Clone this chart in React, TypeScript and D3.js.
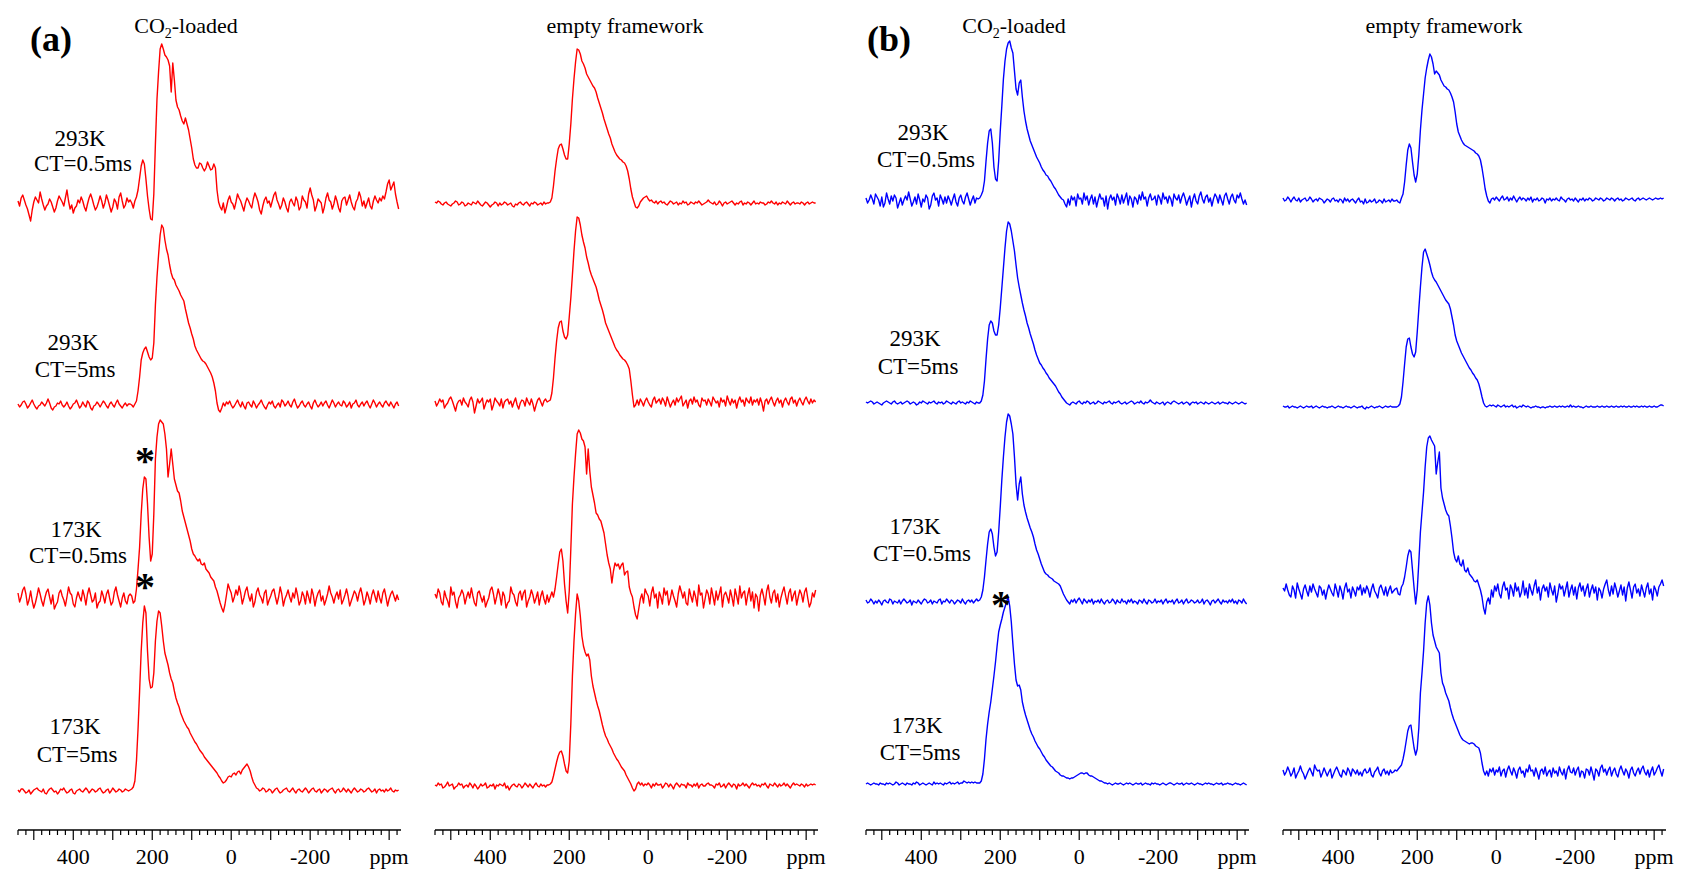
import React from "react";
import * as d3 from "d3";

// Every trace is sampled on one chemical-shift grid: 540 ppm down to -424 ppm, 4 ppm apart (242 points).
const PPM_FIRST = 540;
const PPM_STEP = 4;
const N_POINTS = 242;
const ppmGrid = d3.range(N_POINTS).map((i) => PPM_FIRST - i * PPM_STEP);

const axisTickLabels = [400, 200, 0, -200];
const axisUnitAt = -400;
const temperatures = ["293K", "293K", "173K", "173K"];
const contactTimes = ["CT=0.5ms", "CT=5ms", "CT=0.5ms", "CT=5ms"];
const panelLetters = ["(a)", "(b)"];

// Intensities (a.u., baseline = 0), 11 values per line.

// ---- (a) CO2-loaded ----
const a_co2_293K_05 = [
  3, -2, 6, 9, 4, -1, -5, -11, -17, -6, 2,
  7, 4, 1, 12, 5, -1, -6, -2, 0, 5, 2,
  -3, -8, -4, 3, 8, 5, 2, -2, 6, 14, 3,
  -5, -1, -9, -4, -2, 4, 1, 7, 3, -3, -7,
  0, 6, 10, 5, -1, -6, -3, 2, 8, 3, -4,
  1, 9, 4, -2, -8, -3, 5, 2, -5, 7, 11,
  3, -4, -1, 6, 2, 4, 1, -4, 3, 7, 14,
  26, 38, 44, 40, 25, 8, -5, -15, -16, 10, 60,
  105, 132, 155, 160, 155, 149, 147, 144, 138, 112, 141,
  124, 104, 97, 94, 88, 83, 80, 86, 80, 74, 65,
  56, 45, 39, 36, 36, 41, 40, 36, 33, 36, 42,
  38, 34, 35, 40, 36, 14, 2, -3, -6, 1, -9,
  -3, 4, 8, 2, 0, -5, 2, 10, 6, 3, -2,
  -7, 1, 6, 3, -1, -4, 5, 11, 7, 2, -6,
  -10, -2, 4, 7, 1, 3, -3, 3, 9, 12, 4,
  0, -5, -1, 6, 2, -4, -8, 2, 5, 1, -2,
  7, 3, -6, -3, 8, 4, 2, -4, 10, 16, 9,
  4, -7, -2, 5, 3, 1, -9, -3, 6, 11, 4,
  2, -5, 0, 8, 3, -4, -8, 3, 6, 7, -1,
  4, 9, 2, -3, -6, 2, 5, 12, 7, -2, 3,
  -4, 1, 6, -2, -5, 3, 8, 4, 1, 6, 3,
  8, 5, 12, 20, 24, 14, 18, 22, 10, 2, -5,
];
const a_co2_293K_5 = [
  1, -2, 0, 3, 4, 1, -3, -1, 2, 5, 1,
  -2, -4, -1, 0, 3, 1, -1, 2, 6, 2, -3,
  -5, -2, -1, 2, 1, 4, 0, -2, 0, 3, -1,
  -4, -2, 1, 2, 5, 1, -3, -1, 3, 0, -2,
  4, 2, -3, -5, -1, 0, 3, 1, -2, 1, 4,
  2, -1, -3, 1, 3, 0, -2, 2, 5, 1, -1,
  -3, 0, 2, -1, 1, 1, 0, -2, 1, 4, 14,
  28, 45, 52, 56, 58, 53, 48, 45, 47, 62, 100,
  128, 150, 170, 180, 177, 165, 156, 150, 140, 132, 127,
  125, 120, 117, 114, 110, 107, 104, 96, 89, 82, 77,
  71, 66, 59, 55, 52, 49, 46, 44, 43, 41, 38,
  35, 32, 28, 22, 14, 2, -5, -7, -3, 2, -1,
  3, 1, 4, 0, -3, -1, 2, 5, 1, -2, 3,
  -1, -4, 2, 3, 0, -2, 4, 1, -3, 0, 2,
  5, 1, -2, -4, 0, 3, 1, 4, -1, -3, 0,
  2, -2, 5, 3, -1, 1, 4, 0, -2, 3, 6,
  1, -3, -1, 2, 4, 0, -2, 1, 3, -1, -4,
  2, 5, 1, -2, 0, 3, -1, 2, 4, 0, -3,
  1, 5, 2, -2, 1, 3, 0, -1, 4, 2, -2,
  0, 3, -3, 1, 2, 5, 0, -2, 1, 3, -1,
  2, 4, 0, -3, 1, 5, 2, -2, 1, 3, 0,
  -2, 2, 4, 1, -1, 3, 0, -3, 1, 3, -1,
];
const a_co2_173K_05 = [
  6, -3, 2, 9, 12, 5, -6, -1, 8, -2, -9,
  -4, 3, 11, 5, -2, -7, 1, 7, 10, 2, -5,
  4, -10, -6, -3, 6, 9, 3, -1, -7, 2, 12,
  6, 4, -5, -8, 1, 7, 2, -2, 9, 3, -6,
  5, 11, 4, -3, -1, 6, -9, -4, -2, 8, 3,
  -4, 5, 9, 1, -6, -3, 7, 12, 4, -2, -8,
  1, 6, -2, -5, 3, 5, 3, -4, -2, 10, 30,
  52, 85, 110, 122, 120, 95, 62, 38, 45, 85, 140,
  162, 175, 179, 177, 175, 165, 150, 122, 135, 150, 135,
  120, 114, 108, 106, 98, 88, 82, 76, 70, 64, 58,
  50, 45, 43, 40, 38, 40, 35, 34, 36, 30, 28,
  26, 22, 20, 18, 12, 8, 2, -4, -9, -13, -6,
  4, 15, 10, 6, -3, 2, 9, 4, 13, 6, -5,
  1, 8, 12, 3, -2, 5, -8, -3, 7, 11, 4,
  1, -4, 6, 9, -6, -1, 3, 8, 10, 2, -5,
  2, 12, 5, -7, 0, 4, 9, 2, -3, 6, 1,
  11, 4, -6, -2, 7, 3, -5, 8, 2, -4, 10,
  4, -7, 1, 6, 9, -2, 3, -6, -1, 5, 13,
  6, 2, -4, 3, 7, 0, 9, -5, -1, 4, 10,
  3, -7, -2, 3, 8, 5, -2, 6, 11, 4, -6,
  -1, 7, 2, -5, 4, 9, 3, -3, 8, 1, -4,
  6, 10, 2, -7, 0, 5, 8, 3, -2, 4, -1,
];
const a_co2_173K_5 = [
  1, -1, 2, 2, 0, -2, -1, 1, -3, -1, 1,
  2, 3, 1, 0, -1, 2, -2, -3, 0, 2, 3,
  1, -1, 0, -3, -1, 2, 1, 3, 0, -2, -1,
  1, 2, -2, -3, 0, 1, 2, 0, -1, 1, 3,
  1, -2, 0, 2, 1, -1, 0, 2, 3, 0, -2,
  -1, 1, 2, -2, 0, 3, 1, -1, 0, 2, 1,
  -1, 0, 2, 1, 0, 1, 2, 4, 10, 30, 62,
  100, 140, 168, 185, 178, 140, 112, 103, 104, 118, 150,
  170, 180, 178, 165, 150, 138, 132, 126, 118, 112, 108,
  100, 93, 88, 84, 78, 74, 70, 67, 64, 62, 58,
  55, 52, 49, 47, 44, 41, 39, 37, 34, 32, 30,
  28, 26, 24, 22, 20, 18, 15, 13, 10, 8, 9,
  11, 14, 15, 14, 17, 18, 16, 19, 20, 17, 21,
  23, 25, 27, 24, 20, 14, 9, 6, 3, 2, 0,
  1, 3, 2, -1, 0, 2, 1, -2, 0, 2, 3,
  0, -2, -1, 1, 2, 3, 0, -1, 1, 3, 0,
  -2, 1, 2, 0, -1, 1, 3, 1, -2, 0, 2,
  3, 0, -1, 1, 2, -2, 0, 2, 1, -1, 1,
  2, 3, 0, -2, 1, 2, -1, 0, 3, 1, -1,
  2, 0, -2, 1, 3, 1, -1, 0, 2, 1, -1,
  0, 2, 3, 1, -1, 0, 2, -2, 1, 2, 0,
  1, -1, 2, 0, 1, 3, 0, -1, 1, 0, 1,
];

// ---- (a) empty framework ----
const a_empty_293K_05 = [
  2, 1, 3, 2, 0, -1, 1, 2, 0, -1, -2,
  0, 1, 3, 2, -1, 0, 2, 1, -2, -1, 1,
  0, -1, 2, 1, 0, 3, 1, -1, -2, 0, 2,
  1, -1, -3, -1, 0, 2, 1, -2, 1, -1, 0,
  2, 1, -1, 0, 1, -2, -3, 0, -1, 1, 2,
  0, -1, 1, 2, 0, -2, 1, 0, 2, 1, -1,
  0, 1, -1, 2, 0, 1, 1, 2, 6, 18, 33,
  45, 55, 59, 60, 55, 49, 45, 45, 60, 80, 105,
  125, 142, 155, 154, 150, 143, 140, 136, 130, 127, 124,
  121, 118, 116, 112, 106, 101, 96, 91, 85, 80, 75,
  70, 66, 60, 56, 52, 49, 47, 45, 44, 42, 41,
  38, 33, 25, 15, 7, 2, -3, -4, -2, 2, 4,
  6, 7, 8, 5, 3, 4, 2, 1, 3, 0, 2,
  3, 1, 2, 0, -1, 1, 3, 2, 0, 1, 2,
  -1, 1, 0, 3, 1, 2, -1, 0, 2, 1, 0,
  2, 1, 3, 1, -1, 0, 1, 2, 4, 2, 1,
  0, 2, -1, 0, 3, 1, -2, 1, 2, 0, 1,
  2, 3, 1, -1, 1, 0, 2, 3, -1, 1, 0,
  2, 1, -1, 1, 3, 0, 1, 0, 2, 1, 1,
  -1, 0, 2, 1, 3, 1, 0, 2, -1, 1, 0,
  2, 1, 0, 3, 1, -1, 1, 2, 0, 1, 1,
  0, 2, 1, -1, 1, 2, 0, 1, 2, 1, 1,
];
const a_empty_293K_5 = [
  2, -3, 0, 4, 1, 3, -5, -2, 0, 4, 6,
  2, -3, -8, -1, 2, 3, -2, 5, 1, -1, -4,
  3, 6, 1, -10, -3, 4, 0, 2, 5, -6, -1,
  3, 1, 4, -7, -2, 5, 2, 0, -3, 4, -5,
  1, 3, 4, -1, 2, -4, 1, 5, -2, -6, 0,
  3, 2, -3, 5, 1, -2, 4, -1, -8, -2, 3,
  5, 1, -3, 2, 4, 1, 2, 3, 10, 25, 45,
  62, 75, 81, 82, 72, 66, 64, 68, 86, 105, 128,
  152, 172, 186, 185, 178, 168, 161, 155, 146, 140, 133,
  128, 124, 120, 116, 110, 103, 98, 93, 87, 80, 76,
  72, 68, 64, 60, 56, 53, 51, 48, 46, 44, 43,
  41, 38, 34, 22, 8, -4, -2, 3, -2, 4, 1,
  -3, 2, 5, 1, -2, -4, 3, 6, 0, 2, 4,
  -1, 5, 2, -3, 6, 1, -4, 0, 3, -2, 5,
  1, 4, 7, -3, 0, 3, -5, 2, 4, -1, 6,
  1, 3, -2, -4, 5, 2, 3, -2, 4, 1, -3,
  6, 3, 0, 2, -4, 5, 1, 3, -3, 7, 2,
  -2, 4, 0, 3, -5, 2, 6, 1, 3, -3, 5,
  2, 0, 6, -2, 3, 1, 4, -2, 5, 0, -8,
  2, 4, -1, 3, 6, 1, -3, 2, 5, 0, 3,
  -4, 2, 5, 1, -2, 4, 6, 0, 3, -3, 2,
  5, 1, -2, 3, 6, 2, -1, 4, 0, 3, 1,
];
const a_empty_173K_05 = [
  5, 1, 10, 6, -3, -6, 8, 2, -2, -8, 12,
  4, 7, -3, -9, 1, 4, 9, 5, -5, 2, 7,
  1, 11, 3, -4, -7, 6, 8, 2, -3, 3, -8,
  -3, 1, 9, 12, 5, -5, 2, 10, 4, -6, 7,
  3, -9, -4, -2, 12, 6, 4, -3, -7, 5, 8,
  -1, 6, 9, -8, -2, 2, 9, 4, -4, 1, 7,
  -6, 3, 8, 0, -5, 4, -3, 2, 7, 2, 10,
  22, 35, 47, 50, 38, 15, -2, -14, 8, 50, 95,
  122, 145, 165, 169, 166, 160, 158, 152, 125, 150, 128,
  112, 104, 96, 86, 84, 80, 78, 72, 66, 55, 44,
  36, 30, 16, 28, 36, 33, 35, 30, 34, 36, 24,
  27, 28, 12, 6, 2, -8, -16, -20, -10, 0, 5,
  -4, 10, 6, 3, -7, 6, 12, 1, 5, -9, 7,
  2, -5, 11, 4, 8, -6, 0, 9, 3, -2, -8,
  5, 13, 7, 1, 7, -4, -6, 10, 3, -3, 8,
  2, -7, 14, 4, 6, -9, 0, 9, 5, -5, 11,
  3, -6, 8, -1, 5, 12, -8, 4, 7, 2, -4,
  9, 2, -7, 10, 3, -5, 13, 1, 6, 8, -6,
  4, 11, -2, 7, -9, 5, 2, -12, 4, 10, 3,
  -6, 8, 14, 2, -4, 6, 9, -3, 5, -8, 1,
  7, 12, 3, -5, 6, 10, -2, 4, 8, -6, 2,
  9, 5, -3, 7, 11, 1, -8, -4, 6, 2, 9,
];
const a_empty_173K_5 = [
  1, 0, 3, 1, 2, -2, -1, 1, 4, 0, 1,
  2, -3, -1, 0, 3, 1, 2, -2, 0, 1, -1,
  3, 1, -2, 2, 0, -3, -1, 2, 0, 1, 3,
  -2, -1, 1, 0, 2, -3, 1, 0, 2, 1, 0,
  3, -2, 0, -4, -1, 1, 2, 0, -1, 2, 1,
  -2, 0, 3, 1, -1, 2, 0, -2, 1, 3, 0,
  -1, 2, 0, 1, -1, 1, 1, 2, 4, 10, 17,
  24, 30, 34, 35, 30, 22, 15, 13, 25, 62, 110,
  145, 172, 192, 185, 170, 150, 140, 134, 130, 132, 126,
  110, 100, 93, 86, 80, 75, 68, 61, 55, 50, 47,
  43, 40, 37, 33, 30, 27, 25, 22, 19, 17, 15,
  11, 8, 5, 2, -2, -5, -3, 2, 4, 1, 3,
  0, 2, 1, 3, 1, -2, 2, 0, 3, 1, 1,
  2, -2, 0, 3, 2, -1, 2, 0, -3, 1, 3,
  1, -1, 2, 1, 1, -2, 3, 1, 1, -1, 2,
  0, 3, -2, 1, 2, 0, 0, 2, 3, 1, 1,
  0, -2, 2, 1, 3, -1, 0, 2, -2, 1, 3,
  1, -1, 2, 1, -3, 2, 0, 1, 3, 0, 2,
  0, -2, 1, 3, 1, 2, 0, 1, -1, 2, 1,
  3, 0, -2, 2, 1, 0, 3, 1, -1, 2, 0,
  1, 3, 0, 2, 0, -2, 1, 3, 1, 2, 1,
  0, 2, 1, -1, 2, 0, 1, 2, 1, 2, 1,
];

// ---- (b) CO2-loaded ----
const b_co2_293K_05 = [
  3, -2, 1, 6, 2, -3, 7, 4, 1, -5, 4,
  -6, -2, 8, 2, -3, 5, 0, 6, 3, -7, -2,
  3, -4, 1, 5, 1, 9, 2, -5, -1, 4, -3,
  7, 1, -6, 2, -1, 6, 3, -8, -4, 5, 8,
  1, 3, -5, 6, 2, -3, 4, -2, 5, 1, -4,
  2, 7, -1, -5, 3, 6, 0, -3, 4, 8, 2,
  -4, 1, 5, -2, 3, 2, 3, 6, 10, 20, 40,
  58, 70, 72, 58, 34, 22, 20, 40, 70, 95, 122,
  140, 152, 158, 160, 153, 148, 130, 112, 106, 118, 121,
  104, 90, 80, 72, 66, 60, 56, 52, 48, 44, 41,
  38, 34, 31, 29, 26, 25, 22, 20, 17, 14, 12,
  9, 6, 4, 2, 1, -3, -6, 2, -4, 5, 1,
  4, -5, 7, 2, 3, -3, 8, 1, 5, -4, 2,
  6, -3, 4, -6, 1, 7, 2, 3, -5, 5, -8,
  2, 6, 1, 4, -4, 7, 3, -3, 6, -2, 3,
  8, -4, 5, 2, -6, 4, 2, -3, 6, 1, 9,
  2, 4, -5, 3, 7, 1, 2, 5, -4, 6, 3,
  -3, 8, 2, 4, -2, 5, 2, -5, 7, 3, 1,
  6, -2, 4, 8, 3, -4, 1, 5, -6, 2, 7,
  0, -3, 5, 9, 2, -2, 4, 6, -1, 3, -5,
  2, 7, 4, -2, 6, 1, -4, 5, 8, 2, -3,
  4, 7, 1, -2, 6, 3, 8, 2, -3, 1, -4,
];
const b_co2_293K_5 = [
  1, 0, 1, 2, 1, -1, 0, 1, 0, -1, -2,
  0, 1, 2, 1, 0, -1, 1, 2, 0, -1, 0,
  1, -1, 0, 1, 2, 1, -1, 0, 1, 0, -2,
  -1, 1, 0, 2, 1, 0, -1, 1, 0, 1, 2,
  0, -1, 1, 0, 1, -1, 0, 2, 1, 0, -1,
  1, 0, -1, 1, 2, 0, 1, 0, -1, 1, 0,
  2, 1, 0, -1, 1, 0, 0, 2, 8, 22, 44,
  64, 78, 82, 80, 72, 68, 68, 78, 95, 115, 135,
  155, 172, 181, 179, 172, 162, 152, 138, 125, 116, 108,
  100, 93, 87, 80, 75, 69, 64, 59, 53, 48, 44,
  40, 38, 35, 33, 30, 28, 25, 23, 21, 19, 17,
  14, 11, 9, 6, 4, 2, 0, -1, -2, 0, 1,
  0, -1, 1, 2, 0, -1, 1, 0, 2, 1, -1,
  0, 1, -1, 0, 2, 1, 0, -1, 1, 0, 1,
  2, 0, -1, 1, 0, 1, 2, 0, -1, 0, 1,
  -1, 0, 1, 2, 1, -1, 0, 1, 0, 2, 0,
  -1, 1, 0, 1, 3, 1, 0, -1, 1, 0, -1,
  0, 1, -2, 0, 1, 0, -1, 1, 2, 1, 0,
  -1, 0, 1, -1, 0, 1, 0, -2, 0, 1, 0,
  1, -1, 0, 1, 0, -1, 1, 0, -1, 0, 1,
  0, -1, 0, 1, -1, 0, 1, 0, 0, -1, 1,
  0, -1, 0, 1, 0, -1, 0, 1, 0, -1, 0,
];
const b_co2_173K_05 = [
  2, -1, 0, 3, 1, -2, 1, -1, 2, 0, -3,
  1, 2, 0, -1, 3, 2, -2, 1, 0, -1, 2,
  -2, 1, 3, 1, -1, 0, 2, -3, 1, 0, -1,
  2, 0, -2, 1, 3, 2, -1, 0, 2, -2, 1,
  0, -1, 2, 3, -2, 1, 0, 3, 1, -1, 2,
  1, -2, 0, 2, 1, -1, 3, 0, -2, 1, 2,
  0, 2, -1, 1, 3, 1, 2, 5, 12, 25, 42,
  58, 70, 73, 68, 55, 46, 50, 70, 95, 122, 145,
  165, 180, 188, 186, 178, 168, 145, 118, 102, 118, 125,
  108, 97, 90, 84, 79, 74, 70, 65, 58, 52, 48,
  43, 38, 34, 30, 28, 27, 25, 24, 23, 21, 20,
  19, 18, 16, 12, 8, 5, 2, 0, -2, 2, 0,
  3, -1, 2, 4, 1, -2, 3, 1, -1, 2, 0,
  3, -2, 1, 0, 2, -1, 3, 0, -2, 1, 2,
  -1, 0, 3, 1, -2, 2, 0, -1, 3, 0, 1,
  -2, 2, 0, 3, -1, 1, 0, -2, 2, 1, -1,
  3, 0, -2, 2, 1, -1, 0, 3, -1, 1, 0,
  2, -2, 1, 3, -1, 1, 0, 2, -2, 1, 3,
  -1, 0, 2, -2, 1, 3, -1, 0, 2, 1, -1,
  0, 2, -1, 0, 3, -2, 1, 2, 0, -3, 1,
  2, -1, 1, 3, 0, -2, 2, 0, 1, -1, 2,
  0, 3, -1, 1, -2, 2, 1, -1, 3, 0, -2,
];
const b_co2_173K_5 = [
  0, 1, 0, -1, 0, 1, 0, 0, -1, 1, 0,
  0, -1, 1, 0, 1, 0, -1, 0, 2, 1, -1,
  0, 1, 0, -1, 1, 0, 0, -1, 1, 0, 2,
  1, -1, 0, 1, 0, -1, 0, 1, 0, -1, 2,
  0, 1, 0, 1, 0, -1, 1, 0, 1, 2, 0,
  1, 0, 1, 2, 0, 1, 1, 3, 2, 1, 2,
  1, 2, 1, 2, 1, 1, 1, 3, 10, 25, 45,
  60, 72, 82, 95, 108, 122, 138, 152, 159, 165, 172,
  177, 182, 187, 178, 162, 140, 120, 104, 98, 99, 94,
  82, 75, 69, 64, 59, 54, 50, 47, 43, 40, 37,
  35, 32, 29, 27, 24, 22, 20, 18, 17, 15, 13,
  12, 11, 9, 8, 8, 7, 6, 6, 5, 6, 6,
  7, 8, 9, 10, 11, 11, 10, 11, 11, 9, 8,
  8, 7, 6, 5, 4, 3, 3, 2, 1, 1, 0,
  1, 0, -1, 0, 1, 0, 0, 1, 0, -1, 0,
  1, 0, 1, 0, -1, 0, 1, 0, 0, 1, -1,
  0, 1, 0, 0, -1, 1, 0, 1, 0, 0, -1,
  0, 1, 0, -1, 0, 1, 1, 0, -1, 0, 1,
  0, 0, 1, -1, 0, 1, 0, 0, 1, 0, -1,
  0, 1, 0, 0, -1, 0, 1, 0, 1, 0, 0,
  -1, 0, 1, 0, 0, 1, -1, 0, 0, 1, 0,
  0, -1, 0, 1, 0, 0, -1, 0, 1, 0, -1,
];

// ---- (b) empty framework ----
const b_empty_293K_05 = [
  2, -1, 0, 3, 1, -2, 1, 3, 0, -1, 2,
  -2, 0, 1, 2, -1, 0, 3, 1, -2, 0, 1,
  -1, 2, 1, 0, -3, -1, 1, 0, -2, 1, 2,
  -1, 0, -2, 1, 0, -3, 2, -1, 1, -2, 0,
  1, -1, -3, 0, 2, -2, -1, -4, 1, -3, -2,
  0, -2, -1, 1, -3, -2, 0, -1, -3, 1, -2,
  -1, 0, -2, 1, -1, -1, 0, -2, -3, 2, 6,
  18, 35, 50, 56, 52, 38, 25, 18, 26, 45, 70,
  90, 106, 122, 132, 140, 146, 143, 136, 126, 129, 127,
  125, 120, 117, 114, 113, 111, 110, 107, 103, 98, 88,
  76, 68, 64, 60, 57, 55, 54, 53, 52, 51, 50,
  49, 47, 46, 44, 40, 32, 22, 11, 4, -1, -3,
  1, 2, 0, 3, 1, -1, 2, 4, 0, 1, 3,
  -1, 2, 0, 4, 1, -2, 1, 3, 0, 2, 1,
  -1, 2, 0, 3, -2, 1, 0, 2, -1, 0, 2,
  1, -3, 1, 0, 2, -1, 1, 0, 2, 0, -1,
  3, 1, 0, -2, 1, 2, 0, 1, -1, 2, 0,
  -2, 1, 0, 2, -1, 1, 0, 2, 1, -1, 0,
  2, 1, 0, 2, 1, -1, 0, 2, 1, 0, 2,
  1, -1, 1, 2, 0, 1, -1, 0, 2, 1, 0,
  1, 2, 0, -1, 1, 2, 0, 1, 2, 1, 0,
  1, 2, 1, 0, 1, 2, 1, 1, 2, 1, 2,
];
const b_empty_293K_5 = [
  1, 0, 0, 1, -1, 0, 1, 0, 0, -1, 0,
  1, 0, -1, 0, 1, 0, 0, 1, -1, 0, 1,
  0, -1, 0, 1, 0, 0, -1, 0, 0, 1, 0,
  -1, 0, 1, 0, 0, -1, 0, 1, 0, 0, -1,
  0, 1, 0, -1, 0, 0, 1, -1, -2, 0, -1,
  0, 1, 0, -1, 0, 0, 1, 0, -1, 0, 1,
  0, 0, 1, 0, 0, 0, 0, 1, 3, 10, 25,
  43, 60, 68, 69, 60, 53, 50, 55, 75, 98, 120,
  140, 155, 158, 153, 148, 142, 135, 130, 127, 125, 122,
  119, 116, 113, 110, 107, 105, 103, 98, 90, 82, 72,
  66, 62, 58, 54, 51, 48, 45, 42, 39, 37, 34,
  32, 29, 27, 23, 17, 10, 4, 1, 0, 1, 2,
  1, 2, 1, 0, 2, 1, 0, 1, 2, 0, 1,
  0, 1, 2, 0, 1, -1, 0, 1, 0, 2, 1,
  0, 1, 0, -1, 0, 0, 1, 0, 0, -1, 0,
  0, -1, 0, 0, 1, 0, 0, 1, 0, 0, 1,
  0, 1, 0, 0, 1, 0, 2, 0, 1, 0, 0,
  1, 0, 0, -1, 0, 1, 0, 0, 1, 0, 0,
  0, 1, 0, 0, 1, 0, 0, 1, 0, 0, 1,
  0, 0, 1, 0, 0, 1, 0, 1, 0, 0, 1,
  0, 0, 1, 0, 1, 0, 0, 1, 0, 1, 0,
  0, 1, 0, 0, 1, 0, 0, 1, 2, 2, 1,
];
const b_empty_173K_05 = [
  4, 1, 8, 2, -3, -5, 6, 2, -6, 9, 3,
  -2, -7, 3, 7, 1, -4, 6, 0, 8, 3, -1,
  -5, 6, 4, -3, 2, -7, 1, 7, 3, -1, -4,
  8, 2, -5, 6, 1, -7, 4, 9, 0, 3, -6,
  5, 1, -4, 5, 2, 7, -3, 4, -1, 6, 2,
  -5, 3, 8, 1, -2, -6, 4, 7, 2, -3, 5,
  -4, 2, 6, -1, 1, 3, 4, -2, -3, 5, 8,
  15, 25, 36, 42, 40, 22, 4, -12, 2, 30, 60,
  80, 100, 125, 145, 154, 156, 152, 149, 146, 118, 130,
  140, 104, 94, 88, 82, 78, 76, 66, 54, 40, 33,
  30, 36, 28, 26, 32, 22, 20, 24, 18, 16, 14,
  11, 10, 12, 7, 2, -5, -16, -22, -10, -6, -12,
  2, -5, 6, 1, 8, -2, -6, 5, 10, 2, 4,
  -7, 7, 3, -4, 9, 1, 5, -5, 0, 11, -3,
  4, -6, 8, 2, -3, 6, 12, -1, 5, -8, 3,
  7, 1, 5, -5, 9, 2, -3, 6, -10, -2, 8,
  3, 6, -4, 3, 10, -5, 2, 7, -3, 5, -7,
  4, 9, 1, 6, -4, 3, 8, -5, 2, 7, -1,
  5, -8, 4, 1, -6, 3, 8, 12, 2, -4, 6,
  -2, 9, 3, -5, 1, 7, -3, 5, -9, 4, 10,
  2, -6, 5, 8, -1, 3, -4, 7, 1, -5, 4,
  9, -2, 3, -8, 6, 2, -4, 5, 8, 12, 6,
];
const b_empty_173K_5 = [
  3, -2, 1, 6, 2, -3, 0, 5, -5, -1, 2,
  7, 2, -1, -6, -2, 2, 5, 1, -3, 8, 4,
  2, 3, -4, 0, 5, 1, -3, 1, 4, -5, -1,
  3, 6, 2, -2, -4, 3, 1, -2, 5, 2, -3,
  4, 2, -1, 3, -2, 1, -3, 2, 4, 0, 1,
  5, -2, -4, 1, 3, 6, 0, -3, 2, 4, -1,
  2, -2, 3, 0, 1, 3, 2, 4, 6, 8, 14,
  22, 32, 42, 47, 48, 36, 25, 18, 24, 45, 80,
  100, 122, 150, 170, 177, 168, 150, 138, 132, 126, 123,
  120, 100, 90, 86, 80, 76, 72, 65, 59, 54, 50,
  46, 42, 38, 35, 33, 32, 31, 30, 29, 30, 30,
  29, 27, 26, 25, 20, 10, 2, -2, 2, -3, 4,
  1, 5, -2, 3, 1, 6, -3, 2, 4, -4, 3,
  7, 2, -2, 5, 1, -5, 3, 6, 0, 2, -4,
  4, 1, 8, 2, 3, -3, 5, 0, -6, 2, 4,
  -1, 6, -3, 1, 3, -4, 5, 0, 2, -3, 6,
  1, -2, 4, -6, 3, 7, 1, 0, 5, -2, 3,
  6, -4, 2, 1, -5, 4, 3, -2, 6, 0, -7,
  4, 2, -3, 5, 8, 1, 4, -2, 3, 6, -3,
  2, 5, -1, -4, 3, 7, 2, -2, 4, 1, -5,
  3, 6, 0, -3, 2, 5, -1, 4, 7, 1, -2,
  3, -4, 2, 6, -2, 1, 5, 8, 2, -3, 4,
];

// column order: (a) CO2-loaded, (a) empty, (b) CO2-loaded, (b) empty; rows top to bottom
const traces = [
  [a_co2_293K_05, a_co2_293K_5, a_co2_173K_05, a_co2_173K_5],
  [a_empty_293K_05, a_empty_293K_5, a_empty_173K_05, a_empty_173K_5],
  [b_co2_293K_05, b_co2_293K_5, b_co2_173K_05, b_co2_173K_5],
  [b_empty_293K_05, b_empty_293K_5, b_empty_173K_05, b_empty_173K_5],
];

// ---- layout ----
const W = 1681;
const H = 869;
const RED = "#ff0000";
const BLUE = "#0000ff";
const FONT = "'Liberation Serif', 'Times New Roman', serif";
const COL_WIDTH = 383;
const PPM_DOMAIN: [number, number] = [540, -430];
const columns = [
  { left: 18, color: RED, baselines: [204, 405, 599, 791] },
  { left: 435, color: RED, baselines: [204, 403, 599, 786] },
  { left: 866, color: BLUE, baselines: [201, 403, 602, 784] },
  { left: 1283, color: BLUE, baselines: [200, 407, 592, 773] },
];
const AXIS_Y = 830;
const LABEL_Y = 864;

const rowLabelPos = [
  // [x, y of temperature, x, y of contact time]
  [[80, 146, 83, 171], [73, 350, 75, 377], [76, 537, 78, 563], [75, 734, 77, 762]],
  [[923, 140, 926, 167], [915, 346, 918, 374], [915, 534, 922, 561], [917, 733, 920, 760]],
];

function Axis({ left }: { left: number }) {
  const x = d3.scaleLinear().domain(PPM_DOMAIN).range([left, left + COL_WIDTH]);
  const ticks = d3.range(540, -421, -20);
  return (
    <g>
      <line x1={left} x2={left + COL_WIDTH} y1={AXIS_Y} y2={AXIS_Y} stroke="#000" strokeWidth={1.3} />
      {ticks.map((t) => (
        <line
          key={t}
          x1={x(t)}
          x2={x(t)}
          y1={AXIS_Y}
          y2={AXIS_Y + (t % 100 === 0 ? 10 : 5)}
          stroke="#000"
          strokeWidth={1.2}
        />
      ))}
      {axisTickLabels.map((t) => (
        <text key={t} x={x(t)} y={LABEL_Y} textAnchor="middle" fontSize={22} fontFamily={FONT}>
          {t}
        </text>
      ))}
      <text x={x(axisUnitAt)} y={LABEL_Y} textAnchor="middle" fontSize={22} fontFamily={FONT}>
        ppm
      </text>
    </g>
  );
}

function Column({ ci }: { ci: number }) {
  const col = columns[ci];
  const x = d3.scaleLinear().domain(PPM_DOMAIN).range([col.left, col.left + COL_WIDTH]);
  return (
    <g>
      {traces[ci].map((values, ri) => {
        const base = col.baselines[ri];
        const y = d3.scaleLinear().domain([0, 100]).range([base, base - 100]);
        const line = d3
          .line<number>()
          .x((_, i) => x(ppmGrid[i]))
          .y((d) => y(d));
        return (
          <path
            key={ri}
            d={line(values) || ""}
            fill="none"
            stroke={col.color}
            strokeWidth={1.4}
            strokeLinejoin="round"
          />
        );
      })}
      <Axis left={col.left} />
    </g>
  );
}

function Co2Title({ x }: { x: number }) {
  return (
    <text x={x} y={33} textAnchor="middle" fontSize={22} fontFamily={FONT}>
      CO
      <tspan fontSize={14} dy={5}>
        2
      </tspan>
      <tspan dy={-5}>-loaded</tspan>
    </text>
  );
}

export default function App() {
  return (
    <svg
      width={W}
      height={H}
      viewBox={`0 0 ${W} ${H}`}
      style={{ position: "absolute", left: 0, top: 0, background: "#fff" }}
    >
      <rect width={W} height={H} fill="#fff" />
      {columns.map((_, ci) => (
        <Column key={ci} ci={ci} />
      ))}

      <text x={30} y={51} fontSize={36} fontWeight="bold" fontFamily={FONT}>
        {panelLetters[0]}
      </text>
      <text x={867} y={51} fontSize={36} fontWeight="bold" fontFamily={FONT}>
        {panelLetters[1]}
      </text>

      <Co2Title x={186} />
      <Co2Title x={1014} />
      <text x={625} y={33} textAnchor="middle" fontSize={22} fontFamily={FONT}>
        empty framework
      </text>
      <text x={1444} y={33} textAnchor="middle" fontSize={22} fontFamily={FONT}>
        empty framework
      </text>

      {rowLabelPos.map((panel, pi) =>
        panel.map((p, ri) => (
          <g key={`${pi}-${ri}`} fontFamily={FONT} fontSize={23} textAnchor="middle">
            <text x={p[0]} y={p[1]}>
              {temperatures[ri]}
            </text>
            <text x={p[2]} y={p[3]}>
              {contactTimes[ri]}
            </text>
          </g>
        ))
      )}

      {/* asterisks marking the sharp resonance near 220 ppm */}
      <g fontFamily={FONT} fontSize={40} fontWeight="bold" textAnchor="middle">
        <text x={145} y={474}>*</text>
        <text x={145} y={600}>*</text>
        <text x={1001} y={618}>*</text>
      </g>
    </svg>
  );
}
